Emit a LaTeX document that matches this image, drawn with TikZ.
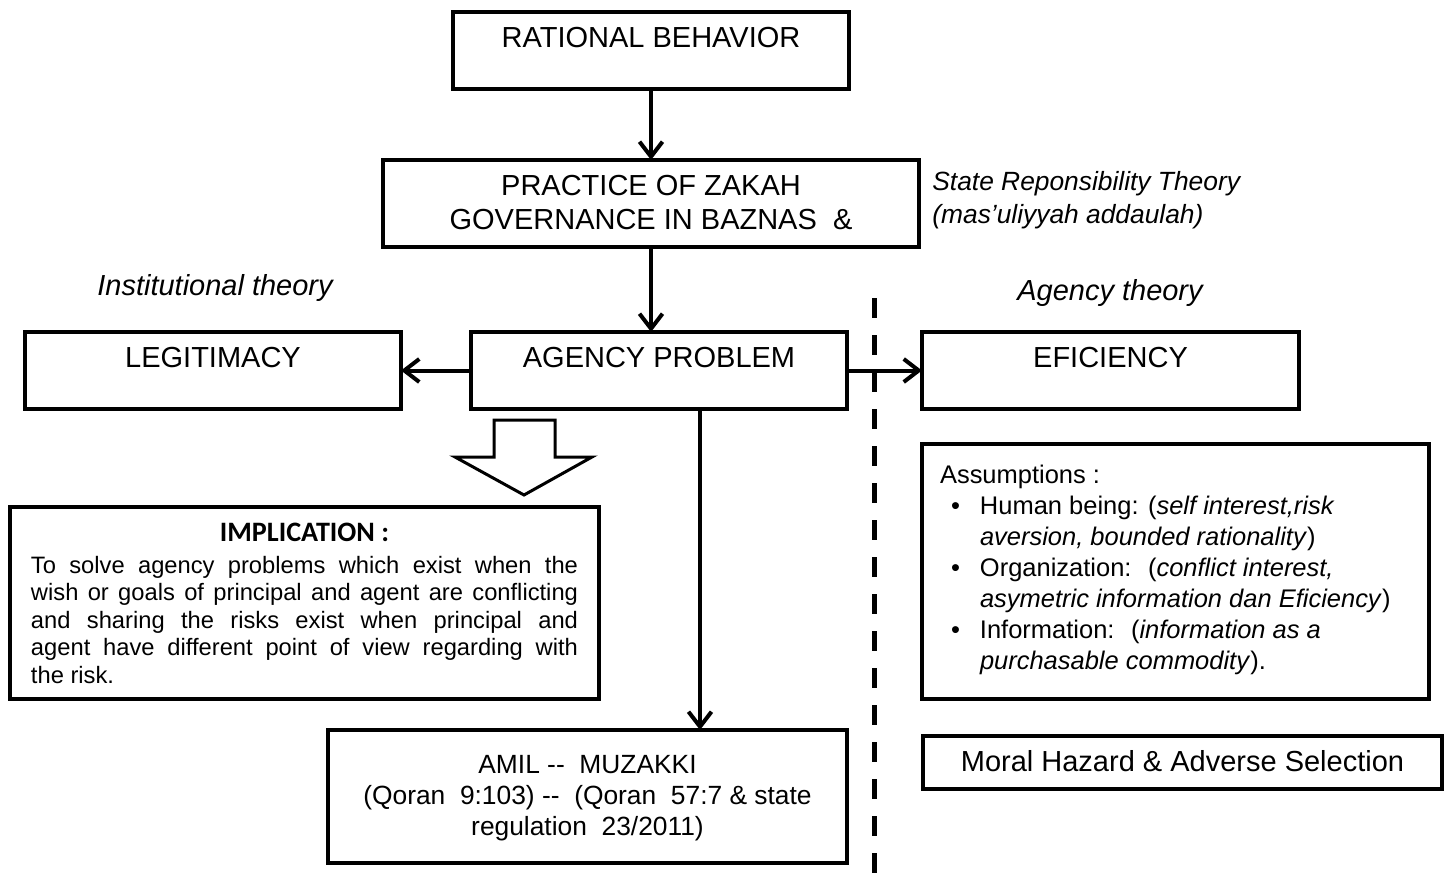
\documentclass[tikz,border=0pt]{standalone}
\usepackage{fontspec}
\setmainfont{Liberation Sans}
\newfontfamily\carlito{Carlito}
\usetikzlibrary{arrows.meta}
\newdimen\px \px=0.2mm
\newcommand{\hd}{\fontsize{16.5}{19.35}\selectfont}
\newcommand{\boxtxt}[5][\centering]{\parbox[c][#3\px][t]{#2\px}{#1\vspace*{#4\px}#5\par}}
\begin{document}
\begin{tikzpicture}[x=0.2mm,y=-0.2mm,
	bx/.style={draw,line width=0.8mm,inner sep=0pt,outer sep=0pt,anchor=north west,font=\hd},
	arr/.style={line width=0.8mm,-{Straight Barb[length=3mm,width=4.6mm]}},
	lbl/.style={inner sep=0pt,font=\itshape\hd}]
	\useasboundingbox (0,0) rectangle (1447,876);
	\node[bx] (rb) at (453,12) {\boxtxt{396}{77}{15}{RATIONAL BEHAVIOR}};
	\node[bx] (pz) at (383,160) {\boxtxt{536}{87}{15}{PRACTICE OF ZAKAH\\GOVERNANCE IN BAZNAS~~\&}};
	\node[bx] (lg) at (25,332) {\boxtxt{376}{77}{15}{LEGITIMACY}};
	\node[bx] (ap) at (471,332) {\boxtxt{376}{77}{15}{AGENCY PROBLEM}};
	\node[bx] (ef) at (922,332) {\boxtxt{377}{77}{15}{EFICIENCY}};
	\node[bx] (im) at (10,507) {\boxtxt{589}{192}{16}{{\carlito\bfseries\fontsize{16}{19}\selectfont IMPLICATION :}\par
		\vspace{4.5\px}\fontsize{13.5}{15.65}\selectfont
		\parbox[t]{547\px}{To solve agency problems which exist when the\linebreak
			wish or goals of principal and agent are conflicting\linebreak
			and sharing the risks exist when principal and\linebreak
			agent have different point of view regarding with\linebreak
			the risk.}}};
	\node[bx] (as) at (922,444) {\boxtxt[\raggedright\leftskip=18\px]{507}{255}{21}{\fontsize{14.5}{17.6}\selectfont
		Assumptions :\par
		\hangindent=40\px\hangafter=1\makebox[40\px][l]{\hspace{11\px}\textbullet}Human being: (\textit{self interest,risk}\break
			\textit{aversion, bounded rationality})\par
		\hangindent=40\px\hangafter=1\makebox[40\px][l]{\hspace{11\px}\textbullet}Organization:~ (\textit{conflict interest,}\break
			\textit{asymetric information dan Eficiency})\par
		\hangindent=40\px\hangafter=1\makebox[40\px][l]{\hspace{11\px}\textbullet}Information:~ (\textit{information as a}\break
			\textit{purchasable commodity}).}};
	\node[bx] (am) at (328,730) {\boxtxt{519}{133}{25}{\fontsize{15}{17.6}\selectfont
		AMIL -{}-~ MUZAKKI\\(Qoran~ 9:103) -{}-~ (Qoran~ 57:7 \& state\\regulation~ 23/2011)}};
	\node[bx] (mh) at (923,736) {\boxtxt{519}{53}{14}{Moral Hazard \& Adverse Selection}};
	% theory labels
	\node[lbl,anchor=base] (it) at (215,295) {Institutional theory};
	\node[lbl,anchor=base] (at) at (1110,300) {Agency theory};
	\node[lbl,anchor=north west,align=left,font=\itshape\fontsize{15}{18.8}\selectfont] (st) at (932,171) {State Reponsibility Theory\\(mas’uliyyah addaulah)};
	% divider
	\draw[line width=1mm,dash pattern=on 4mm off 3.4mm] (874,298) -- (874,876);
	% hollow arrow
	\draw[line width=0.6mm,line join=miter] (494,420) -- (555,420) -- (555,457) -- (592,457) -- (524,495) -- (455,457) -- (494,457) -- cycle;
	\draw[arr] (rb.south) -- (pz.north);
	\draw[arr] (pz.south) -- (pz.south |- ap.north);
	\draw[arr] (ap.west) -- (lg.east);
	\draw[arr] (ap.east) -- (ef.west);
	\draw[arr] ([xshift=8.2mm]ap.south) -- ([xshift=8.2mm]ap.south |- am.north);
	% \draw[arr] (ap.south) -- (im.north);
\end{tikzpicture}
\end{document}
